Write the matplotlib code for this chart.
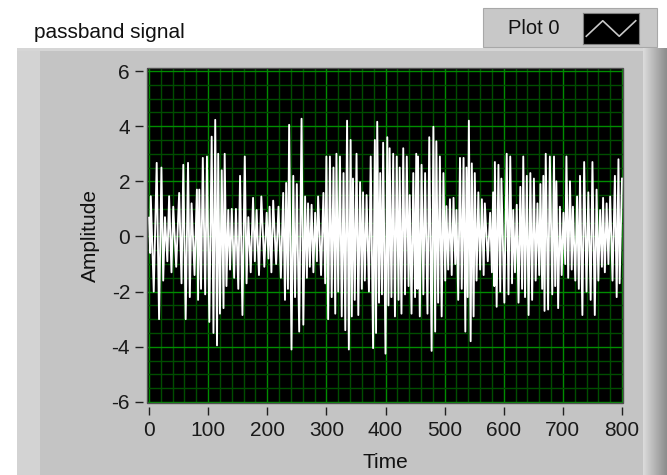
import numpy as np
import matplotlib.pyplot as plt
from matplotlib.patches import Rectangle
from matplotlib.ticker import MultipleLocator

plt.rcParams['font.family'] = ['Liberation Sans', 'DejaVu Sans']
plt.rcParams['axes.unicode_minus'] = False

# Passband signal: positive peaks and negative troughs
peak_time = [0, 3, 13, 21, 27, 34, 41, 51, 58, 66,
             72, 81, 85, 91, 98, 106, 112, 117, 123, 128,
             134, 140, 147, 154, 162, 168, 176, 182, 190, 199,
             204, 210, 219, 227, 232, 237, 244, 250, 258, 264,
             269, 275, 281, 286, 295, 300, 306, 312, 317, 323,
             329, 335, 341, 345, 351, 357, 362, 368, 375, 382,
             386, 391, 396, 403, 407, 413, 419, 424, 430, 436,
             441, 447, 452, 455, 461, 467, 474, 481, 486, 492,
             498, 503, 509, 515, 520, 526, 532, 537, 541, 546,
             551, 557, 563, 568, 577, 582, 585, 591, 596, 605,
             611, 616, 622, 628, 633, 639, 645, 651, 657, 662,
             667, 671, 678, 685, 689, 695, 701, 706, 712, 717,
             724, 729, 736, 743, 750, 757, 763, 768, 774, 780,
             788, 794, 800]
peak_amp = [0.68, 1.46, 2.67, 2.5, 0.7, 1.46, 1.08, 1.58, 2.6, 2.67,
            1.2, 1.7, 1.7, 2.85, 2.9, 3.62, 4.23, 3.0, 2.4, 3.0,
            0.96, 1.0, 1.0, 2.2, 2.9, 0.7, 1.4, 0.96, 1.45, 0.86,
            1.08, 1.3, 1.08, 1.58, 1.94, 4.05, 2.2, 1.9, 4.27, 1.45,
            1.2, 1.15, 0.86, 1.45, 1.58, 2.9, 2.9, 2.5, 3.0, 2.9,
            2.3, 4.2, 3.5, 2.1, 3.0, 1.97, 1.6, 1.5, 2.9, 3.5,
            4.16, 2.3, 3.4, 3.6, 3.2, 3.0, 2.9, 2.5, 3.2, 2.9,
            1.5, 2.3, 3.0, 2.9, 2.6, 2.3, 3.6, 3.98, 3.45, 2.9,
            2.3, 1.1, 1.35, 1.4, 0.96, 2.85, 2.85, 2.5, 4.2, 2.65,
            2.3, 1.6, 1.35, 1.2, 0.86, 1.6, 2.7, 2.6, 2.1, 3.0,
            2.9, 0.96, 1.15, 1.8, 2.9, 2.2, 2.3, 2.1, 1.2, 1.9,
            2.2, 3.0, 2.9, 2.9, 2.0, 1.08, 0.86, 2.9, 2.0, 1.08,
            1.45, 2.2, 2.7, 1.6, 2.7, 1.7, 0.96, 1.4, 1.2, 1.45,
            2.2, 2.8, 2.1]
trough_time = [2, 8, 17, 24, 31, 38, 46, 55, 62, 69,
               77, 83, 88, 95, 102, 109, 115, 120, 126, 131,
               137, 144, 151, 158, 165, 172, 179, 186, 195, 202,
               207, 215, 223, 230, 235, 241, 247, 254, 261, 267,
               272, 278, 284, 291, 298, 303, 309, 315, 320, 326,
               332, 338, 343, 348, 354, 360, 365, 372, 379, 384,
               389, 394, 400, 405, 410, 416, 422, 427, 433, 439,
               444, 450, 454, 458, 464, 471, 478, 484, 489, 495,
               501, 506, 512, 518, 523, 529, 535, 539, 544, 549,
               554, 560, 566, 573, 580, 584, 588, 594, 601, 608,
               614, 619, 625, 631, 636, 642, 648, 654, 660, 665,
               669, 675, 682, 687, 692, 698, 704, 709, 715, 721,
               727, 733, 740, 747, 754, 760, 766, 771, 777, 784,
               791, 796]
trough_amp = [-0.6, -2.0, -3.0, -1.6, -0.9, -1.3, -1.1, -1.7, -3.0, -2.2,
              -1.4, -2.3, -1.9, -2.1, -3.1, -3.5, -3.95, -2.8, -2.6, -1.8,
              -1.2, -1.5, -1.9, -2.85, -1.7, -1.3, -0.9, -1.4, -1.1, -0.8,
              -1.3, -1.0, -1.5, -2.3, -1.9, -4.1, -2.2, -3.45, -3.2, -1.5,
              -1.1, -1.3, -0.9, -1.4, -1.7, -3.0, -2.2, -2.8, -2.0, -2.9,
              -3.4, -4.1, -2.9, -2.3, -2.85, -1.9, -1.6, -2.0, -4.05, -3.5,
              -2.4, -2.1, -4.25, -2.5, -2.2, -2.9, -2.3, -2.8, -2.1, -1.8,
              -2.8, -2.2, -1.9, -2.9, -2.1, -2.8, -4.15, -3.45, -2.4, -2.9,
              -1.6, -1.2, -1.4, -1.0, -2.3, -1.9, -3.45, -2.2, -3.8, -2.9,
              -1.6, -1.2, -1.4, -0.9, -1.3, -1.8, -2.55, -2.0, -2.4, -2.1,
              -1.7, -1.3, -2.4, -1.9, -2.2, -2.85, -2.3, -1.6, -1.4, -1.9,
              -2.7, -2.65, -2.1, -1.8, -2.6, -1.4, -1.0, -1.5, -1.2, -1.6,
              -1.9, -2.85, -2.0, -2.3, -2.85, -1.6, -1.1, -1.3, -1.0, -1.6,
              -2.2, -1.7]

x_ticks = [0, 100, 200, 300, 400, 500, 600, 700, 800]
y_ticks = [-6, -4, -2, 0, 2, 4, 6]

# merge peaks and troughs into one time-ordered waveform
t_all = np.array(peak_time + trough_time, dtype=float)
a_all = np.array(peak_amp + trough_amp)
order = np.argsort(t_all, kind='stable')
time, amp = t_all[order], a_all[order]

W, H = 667, 475
fig = plt.figure(figsize=(W / 100, H / 100), dpi=100)
fig.patch.set_facecolor('white')


def box(x0, y0, x1, y1, color, z=0, ec='none', lw=0):
    fig.add_artist(Rectangle((x0 / W, 1 - y1 / H), (x1 - x0) / W, (y1 - y0) / H,
                             transform=fig.transFigure, facecolor=color,
                             edgecolor=ec, linewidth=lw, zorder=z))


# gray LabVIEW panel
box(17, 48, 667, 475, '#C4C4C4')
box(17, 48, 40, 475, '#D3D3D3')
box(17, 48, 667, 51, '#D6D6D6')
grad = fig.add_axes([643 / W, 0, 24 / W, 1 - 48 / H])
grad.imshow(np.linspace(0.86, 0.55, 50)[None, :], cmap='gray', vmin=0, vmax=1,
            aspect='auto', extent=[0, 1, 0, 1])
grad.axis('off')

# legend plate
box(483, 8, 657, 47, '#C8C8C8', ec='#A8A8A8', lw=0.8)
fig.text(508 / W, 1 - 29 / H, 'Plot 0', fontsize=14.5, color='#111111',
         ha='left', va='center')
icon = fig.add_axes([583 / W, 1 - 44 / H, 56 / W, 31 / H])
icon.set_facecolor('black')
icon.plot([0, 1, 2, 3], [0, 1, 0, 1], color='#C8C8C8', lw=1.2)
icon.set_xlim(-0.2, 3.2)
icon.set_ylim(-0.5, 1.5)
icon.set_xticks([])
icon.set_yticks([])
for s in icon.spines.values():
    s.set_color('#808080')

fig.text(34 / W, 1 - 32 / H, 'passband signal', fontsize=15, color='#111111',
         ha='left', va='center')

# graph area
ax = fig.add_axes([147 / W, 1 - 403 / H, 476 / W, 335 / H])
ax.set_facecolor('black')
ax.plot(time, amp, color='white', lw=1.35, zorder=3)

ax.set_xlim(-3.4, 801.7)
ax.set_ylim(-6.04, 6.11)
ax.set_xticks(x_ticks)
ax.set_yticks(y_ticks)
ax.xaxis.set_minor_locator(MultipleLocator(20))
ax.yaxis.set_minor_locator(MultipleLocator(0.5))
ax.grid(which='minor', color='#004D00', lw=1.0, zorder=1)
ax.grid(which='major', color='#008C00', lw=1.0, zorder=2)
ax.set_axisbelow(True)

for side in ['left', 'bottom']:
    ax.spines[side].set_position(('outward', 3.2))
for s in ax.spines.values():
    s.set_color('none')
ax.add_patch(Rectangle((0, 0), 1, 1, transform=ax.transAxes, fill=False,
                       edgecolor='#505050', lw=1.0, clip_on=False, zorder=5))

ax.tick_params(which='major', length=5.5, width=1.0, color='#202020',
               labelsize=15, labelcolor='#1A1A1A')
ax.tick_params(axis='x', pad=4)
ax.tick_params(axis='y', pad=3.5)
ax.tick_params(which='minor', length=0)

fig.text(385 / W, 1 - 462 / H, 'Time', fontsize=15, color='#111111',
         ha='center', va='center')
fig.text(90 / W, 1 - 235 / H, 'Amplitude', fontsize=15, color='#111111',
         ha='center', va='center', rotation=90)

fig.savefig('out.png', dpi=100)
